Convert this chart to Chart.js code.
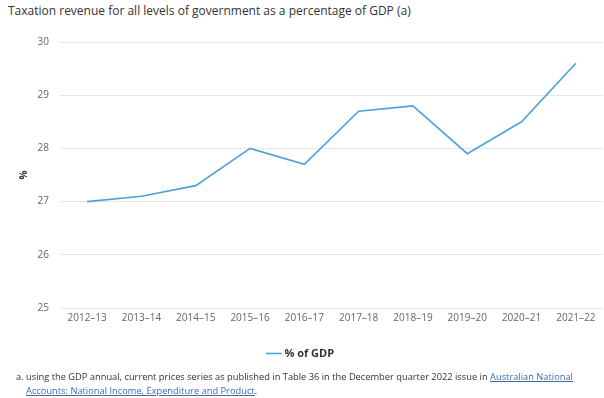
<!DOCTYPE html>
<html>
<head>
<meta charset="utf-8">
<script src="https://cdn.jsdelivr.net/npm/chart.js@4/dist/chart.umd.min.js"></script>
<style>
  body { margin: 0; background: #fff; font-family: "Open Sans", sans-serif; color: #333; }
  #wrap { position: relative; width: 604px; height: 398px; overflow: hidden; }
  #title { position: absolute; left: 8px; top: 2px; font-size: 12px; white-space: nowrap; }
  #box { position: absolute; left: 0; top: 25px; width: 604px; height: 348px; }
  #note { position: absolute; left: 16px; top: 370px; width: 580px; font-size: 9.3px; line-height: 14px; padding-left: 10px; text-indent: -10px; }
  #note a { color: #3f6aa8; text-decoration: underline; }
</style>
</head>
<body>
<div id="wrap">
  <div id="title">Taxation revenue for all levels of government as a percentage of GDP (a)</div>
  <div id="box"><canvas id="chart"></canvas></div>
  <div id="note">a. using the GDP annual, current prices series as published in Table 36 in the December quarter 2022 issue in <a href="#">Australian National Accounts: National Income, Expenditure and Product</a>.</div>
</div>
<script>
const years = ['2012–13', '2013–14', '2014–15', '2015–16', '2016–17', '2017–18', '2018–19', '2019–20', '2020–21', '2021–22'];
const pctOfGdp = [27.0, 27.1, 27.3, 28.0, 27.7, 28.7, 28.8, 27.9, 28.5, 29.6];
const yMin = 25;
const yMax = 30;

Chart.defaults.font.family = '"Open Sans", sans-serif';
Chart.defaults.color = '#666';

new Chart(document.getElementById('chart'), {
  type: 'line',
  data: {
    labels: years,
    datasets: [{
      label: '% of GDP',
      data: pctOfGdp,
      borderColor: '#4ba3d8',
      backgroundColor: '#4ba3d8',
      borderWidth: 1.6,
      tension: 0,
      pointRadius: 0,
      fill: false,
    }],
  },
  options: {
    responsive: true,
    maintainAspectRatio: false,
    animation: false,
    layout: { padding: { top: 14, right: 1, left: 0, bottom: 4 } },
    plugins: {
      legend: {
        position: 'bottom',
        labels: {
          usePointStyle: true,
          pointStyle: 'line',
          boxWidth: 10,
          padding: 14,
          color: '#333',
          font: { size: 11, weight: 'bold' },
        },
      },
      tooltip: { enabled: false },
    },
    scales: {
      x: {
        offset: true,
        grid: { display: false, drawTicks: false },
        border: { display: false },
        ticks: { font: { size: 10 }, color: '#666', maxRotation: 0, padding: 4 },
        afterFit: (scale) => { scale.height += 6; },
      },
      y: {
        min: yMin,
        max: yMax,
        grid: { color: '#e6e6e6', drawTicks: false },
        border: { display: false },
        ticks: { stepSize: 1, font: { size: 10 }, color: '#666', padding: 11 },
        title: { display: true, text: '%', color: '#333', font: { size: 10, weight: 'bold' }, padding: { top: 18, bottom: 0 } },
        afterFit: (scale) => { scale.width = 60; },
      },
    },
  },
});
</script>
</body>
</html>
